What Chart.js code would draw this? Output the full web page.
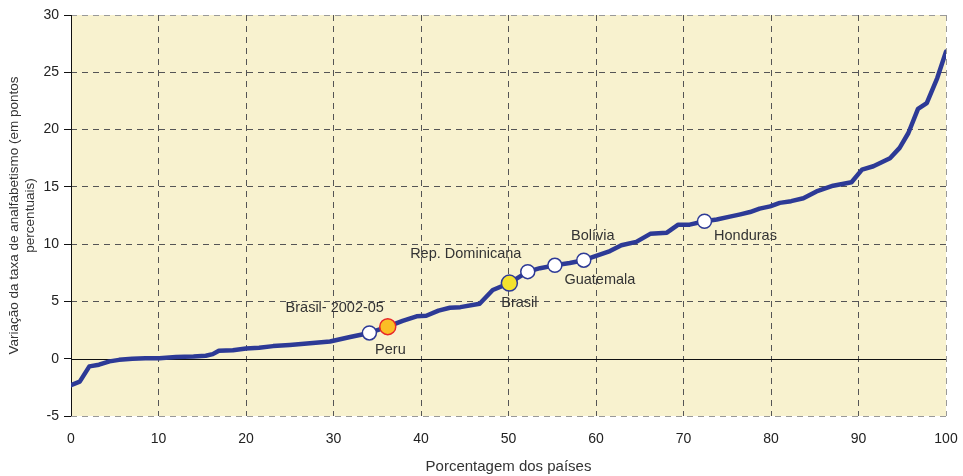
<!DOCTYPE html>
<html>
<head>
<meta charset="utf-8">
<script src="https://cdn.jsdelivr.net/npm/chart.js@4/dist/chart.umd.min.js"></script>
<style>
html,body{margin:0;padding:0;background:#fff;}
#wrap{width:963px;height:476px;position:relative;}
</style>
</head>
<body>
<div id="wrap"><canvas id="c" width="963" height="476"></canvas></div>
<script>
// Curve: percentage of countries (x) vs change in illiteracy rate (y)
const curveX = [0, 1, 2.1, 3.2, 4.4, 5.5, 7, 8.5, 10.1, 12, 14, 15.4, 16.2, 16.9, 18.5, 20, 21.5, 23.1, 25, 27.3, 29.6, 31.9, 34.1, 36.2, 37.9, 39.5, 40.6, 42, 43.3, 44.5, 46.7, 48.2, 50.1, 52.2, 53.6, 55.3, 57, 58.6, 60.1, 61.6, 62.9, 64.6, 66.2, 68.1, 69.4, 70.7, 72.4, 73.8, 75.3, 76.5, 77.6, 78.7, 79.9, 81, 82.3, 83.7, 85.2, 87.1, 89.2, 90.4, 91.7, 93.6, 94.7, 95.7, 96.8, 97.8, 99, 100];
const curveY = [-2.3, -2.0, -0.67, -0.52, -0.23, -0.1, 0, 0.03, 0.05, 0.15, 0.2, 0.26, 0.4, 0.7, 0.73, 0.9, 0.95, 1.1, 1.2, 1.35, 1.5, 1.9, 2.25, 2.8, 3.3, 3.7, 3.75, 4.2, 4.45, 4.5, 4.8, 6.0, 6.6, 7.6, 7.9, 8.15, 8.35, 8.6, 9.0, 9.4, 9.9, 10.2, 10.9, 11.0, 11.7, 11.7, 12.0, 12.15, 12.4, 12.6, 12.8, 13.1, 13.3, 13.6, 13.75, 14.0, 14.6, 15.1, 15.4, 16.5, 16.8, 17.5, 18.4, 19.7, 21.8, 22.3, 24.5, 26.8];

// Highlighted countries
const countryNames = ["Peru", "Rep. Dominicana", "Guatemala", "Bolívia", "Honduras"];
const countryX = [34.1, 52.2, 55.3, 58.6, 72.4];
const countryY = [2.25, 7.6, 8.15, 8.6, 12.0];
const brasilName = ["Brasil"];
const brasilX = [50.1];
const brasilY = [6.6];
const brasil0205Name = ["Brasil- 2002-05"];
const brasil0205X = [36.2];
const brasil0205Y = [2.8];

// Ticks
const xTicks = [0, 10, 20, 30, 40, 50, 60, 70, 80, 90, 100];
const yTicks = [-5, 0, 5, 10, 15, 20, 25, 30];

// label offsets (pixels) relative to markers
const labelOffsets = {
  "Peru": [21, 17],
  "Rep. Dominicana": [-62, -18],
  "Guatemala": [45, 15],
  "Bolívia": [9, -24],
  "Honduras": [41, 15],
  "Brasil": [10, 20],
  "Brasil- 2002-05": [-53, -19]
};

const toPts = (xs, ys) => xs.map((x, i) => ({x: x, y: ys[i]}));

const FONT = "'Liberation Sans', Arial, Helvetica, sans-serif";
const BG = '#F8F2CF';

const bgPlugin = {
  id: 'bg',
  beforeDraw(chart) {
    const {ctx, chartArea: a} = chart;
    ctx.save();
    ctx.fillStyle = BG;
    ctx.fillRect(a.left, a.top, a.right - a.left, a.bottom - a.top);
    ctx.restore();
  },
  beforeDatasetsDraw(chart) {
    const {ctx, chartArea: a, scales} = chart;
    const y0 = Math.round(scales.y.getPixelForValue(0)) + 0.5;
    ctx.save();
    ctx.setLineDash([]);
    ctx.strokeStyle = '#111';
    ctx.lineWidth = 1;
    ctx.beginPath();
    ctx.moveTo(a.left, y0);
    ctx.lineTo(a.right, y0);
    ctx.stroke();
    // left axis line (solid black)
    const x0 = Math.round(a.left) + 0.5;
    ctx.beginPath();
    ctx.moveTo(x0, a.top);
    ctx.lineTo(x0, a.bottom);
    ctx.stroke();
    ctx.restore();
  },
  afterDatasetsDraw(chart) {
    const {ctx, scales} = chart;
    ctx.save();
    ctx.font = '14.5px ' + FONT;
    ctx.fillStyle = '#333';
    ctx.textAlign = 'center';
    ctx.textBaseline = 'middle';
    const draw = (names, xs, ys) => names.forEach((n, i) => {
      const px = scales.x.getPixelForValue(xs[i]);
      const py = scales.y.getPixelForValue(ys[i]);
      const o = labelOffsets[n];
      ctx.fillText(n, px + o[0], py + o[1]);
    });
    draw(countryNames, countryX, countryY);
    draw(brasilName, brasilX, brasilY);
    draw(brasil0205Name, brasil0205X, brasil0205Y);
    ctx.restore();
  }
};

new Chart(document.getElementById('c'), {
  type: 'scatter',
  data: {
    datasets: [
      {
        type: 'line',
        data: toPts(curveX, curveY),
        borderColor: '#2D3A96',
        borderWidth: 4.5,
        pointRadius: 0,
        tension: 0,
        fill: false,
        borderJoinStyle: 'round',
        borderCapStyle: 'round',
        order: 3
      },
      {
        data: toPts(countryX, countryY),
        pointRadius: 7,
        pointBackgroundColor: '#FFFFFF',
        pointBorderColor: '#2D3A96',
        pointBorderWidth: 1.5,
        order: 1
      },
      {
        data: toPts(brasilX, brasilY),
        pointRadius: 8,
        pointBackgroundColor: '#F4E22E',
        pointBorderColor: '#2D3A96',
        pointBorderWidth: 1.5,
        order: 1
      },
      {
        data: toPts(brasil0205X, brasil0205Y),
        pointRadius: 8,
        pointBackgroundColor: '#FBBE25',
        pointBorderColor: '#E8262A',
        pointBorderWidth: 1.5,
        order: 1
      }
    ]
  },
  options: {
    responsive: false,
    animation: false,
    events: [],
    layout: {padding: {top: 15, right: 17, left: 0, bottom: 0}},
    plugins: {legend: {display: false}, tooltip: {enabled: false}},
    scales: {
      x: {
        type: 'linear',
        min: 0, max: 100,
        afterBuildTicks(scale) { scale.ticks = xTicks.map(v => ({value: v})); },
        afterFit(scale) { scale.height = 60; scale.paddingRight = 0; scale.paddingLeft = 0; },
        border: {display: false, dash: [6, 5]},
        grid: {
          drawTicks: false,
          color: ctx => (ctx.tick && (ctx.tick.value === 0)) ? 'rgba(0,0,0,0)' : (ctx.tick && ctx.tick.value === 100 ? '#999' : '#555'),
          lineWidth: 1
        },
        ticks: {
          padding: 15,
          color: '#222',
          font: {family: FONT, size: 14},
          callback: v => String(v)
        },
        title: {
          display: true,
          text: 'Porcentagem dos países',
          color: '#333',
          font: {family: FONT, size: 15},
          padding: {top: 0, bottom: 0}
        }
      },
      y: {
        type: 'linear',
        min: -5, max: 30,
        afterBuildTicks(scale) { scale.ticks = yTicks.map(v => ({value: v})); },
        afterFit(scale) { scale.width = 71; },
        border: {display: false, dash: [6, 5]},
        grid: {
          drawTicks: true,
          tickLength: 7,
          tickColor: '#111',
          tickWidth: 1,
          tickBorderDash: [],
          color: ctx => {
            const v = ctx.tick ? ctx.tick.value : null;
            if (v === 0) return 'rgba(0,0,0,0)';
            if (v === -5 || v === 30) return '#999';
            return '#555';
          },
          lineWidth: 1
        },
        ticks: {
          padding: 5,
          color: '#222',
          font: {family: FONT, size: 14},
          callback: v => String(v)
        },
        title: {
          display: true,
          text: ['Variação da taxa de analfabetismo (em pontos', 'percentuais)'],
          color: '#333',
          font: {family: FONT, size: 13.5, lineHeight: 1.2},
          padding: {top: 6, bottom: 2}
        }
      }
    }
  },
  plugins: [bgPlugin]
});
</script>
</body>
</html>
